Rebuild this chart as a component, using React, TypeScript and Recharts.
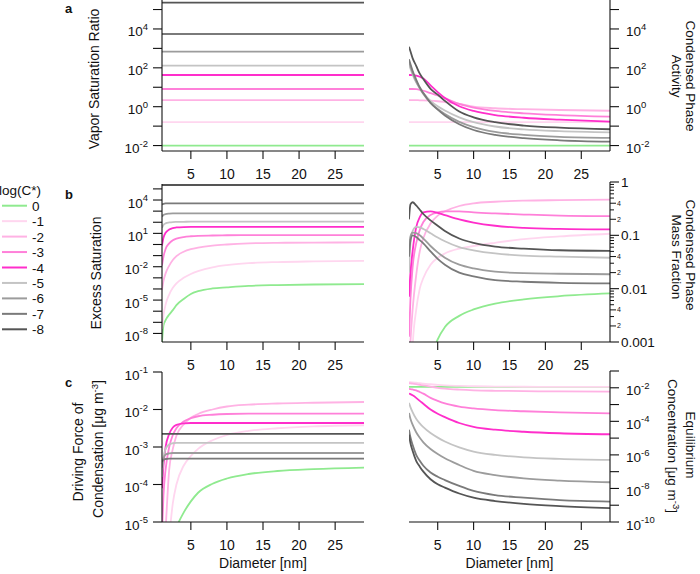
import React from "react";
import { LineChart, Line, XAxis, YAxis } from "recharts";

const W = 700;
const H = 574;
const FONT = '"Liberation Sans", Arial, Helvetica, sans-serif';
const INK = "#111";

const levels = ["0", "-1", "-2", "-3", "-4", "-5", "-6", "-7", "-8"];
const seriesColors = ["#8fea8f", "#ffd6ef", "#ffb2e4", "#ff80d9", "#ff2ecb", "#c4c4c4", "#9c9c9c", "#7a7a7a", "#555555"];

const diameters = [1, 1.2, 1.5, 2, 2.5, 3, 4, 5, 6, 8, 10, 13, 17, 22, 29];
const xTicks = [5, 10, 15, 20, 25];

// a (left): vapor saturation ratio, log10, flat with diameter
const vaporSaturationLog = [-2, -0.79, 0.34, 0.91, 1.63, 2.11, 2.83, 3.74, 5.35];

// a (right): condensed phase activity, log10, one row per log(C*)
const activityLog = [
  [-2, -2, -2, -2, -2, -2, -2, -2, -2, -2, -2, -2, -2, -2, -2],
  [-0.79, -0.79, -0.79, -0.79, -0.79, -0.79, -0.79, -0.79, -0.79, -0.79, -0.79, -0.79, -0.79, -0.79, -0.79],
  [0.34, 0.34, 0.34, 0.34, 0.33, 0.33, 0.31, 0.28, 0.24, 0.15, 0.0, -0.08, -0.13, -0.17, -0.21],
  [0.91, 0.91, 0.91, 0.9, 0.87, 0.82, 0.7, 0.58, 0.44, 0.14, -0.05, -0.22, -0.34, -0.43, -0.51],
  [1.63, 1.63, 1.63, 1.6, 1.54, 1.45, 1.1, 0.75, 0.45, 0.02, -0.22, -0.43, -0.57, -0.67, -0.77],
  [2.15, 1.95, 1.65, 1.25, 0.95, 0.7, 0.3, 0.02, -0.2, -0.55, -0.8, -1.02, -1.17, -1.26, -1.32],
  [2.3, 2.08, 1.75, 1.3, 0.95, 0.65, 0.2, -0.12, -0.38, -0.78, -1.05, -1.3, -1.45, -1.55, -1.6],
  [2.44, 2.2, 1.85, 1.4, 1.0, 0.7, 0.2, -0.15, -0.45, -0.9, -1.2, -1.45, -1.62, -1.73, -1.8],
  [3.08, 2.85, 2.5, 2.1, 1.7, 1.42, 0.92, 0.62, 0.3, -0.25, -0.55, -0.8, -0.97, -1.08, -1.16],
];

// b (left): excess saturation, log10
const excessLog = [
  [-8.8, -7.3, -6.8, -6.3, -5.9, -5.45, -4.9, -4.45, -4.2, -3.95, -3.85, -3.72, -3.65, -3.6, -3.57],
  [-7.6, -6.4, -5.4, -4.5, -3.9, -3.5, -3.0, -2.65, -2.4, -2.05, -1.85, -1.68, -1.58, -1.52, -1.47],
  [-4.1, -3.3, -2.6, -1.9, -1.4, -1.05, -0.65, -0.42, -0.28, -0.1, 0.0, 0.1, 0.15, 0.17, 0.19],
  [-1.9, -1.1, -0.4, 0.1, 0.38, 0.52, 0.67, 0.74, 0.78, 0.81, 0.83, 0.84, 0.85, 0.85, 0.85],
  [-0.1, 0.6, 1.05, 1.35, 1.48, 1.53, 1.57, 1.58, 1.58, 1.59, 1.59, 1.59, 1.59, 1.59, 1.59],
  [1.5, 1.75, 1.9, 1.98, 2.02, 2.03, 2.04, 2.05, 2.05, 2.05, 2.05, 2.05, 2.05, 2.05, 2.05],
  [2.5, 2.65, 2.74, 2.78, 2.8, 2.8, 2.8, 2.8, 2.8, 2.8, 2.8, 2.8, 2.8, 2.8, 2.8],
  [3.6, 3.66, 3.69, 3.7, 3.7, 3.7, 3.7, 3.7, 3.7, 3.7, 3.7, 3.7, 3.7, 3.7, 3.7],
  [5.35, 5.35, 5.35, 5.35, 5.35, 5.35, 5.35, 5.35, 5.35, 5.35, 5.35, 5.35, 5.35, 5.35, 5.35],
];

// b (right): condensed phase mass fraction, log10
const massFractionLog = [
  [-5, -4.8, -4.6, -4.3, -4.0, -3.75, -3.35, -2.95, -2.72, -2.51, -2.39, -2.28, -2.2, -2.14, -2.09],
  [-5, -4.3, -3.1, -2.4, -2.0, -1.8, -1.55, -1.42, -1.34, -1.25, -1.2, -1.14, -1.07, -1.02, -0.97],
  [-3.6, -3.0, -2.4, -1.75, -1.3, -1.05, -0.78, -0.63, -0.55, -0.45, -0.4, -0.37, -0.35, -0.34, -0.33],
  [-2.9, -2.2, -1.6, -1.15, -0.9, -0.75, -0.62, -0.57, -0.55, -0.55, -0.57, -0.59, -0.61, -0.63, -0.64],
  [-2.15, -1.7, -1.3, -0.85, -0.66, -0.57, -0.55, -0.58, -0.62, -0.7, -0.76, -0.82, -0.86, -0.88, -0.89],
  [-1.7, -1.15, -0.92, -0.84, -0.85, -0.88, -0.96, -1.04, -1.11, -1.22, -1.28, -1.34, -1.38, -1.4, -1.42],
  [-1.25, -1.02, -0.95, -0.96, -1.0, -1.06, -1.2, -1.32, -1.42, -1.55, -1.62, -1.68, -1.71, -1.72, -1.73],
  [-1.4, -1.1, -1.0, -1.03, -1.09, -1.15, -1.3, -1.44, -1.55, -1.7, -1.77, -1.84, -1.87, -1.89, -1.9],
  [-0.7, -0.42, -0.38, -0.44, -0.52, -0.6, -0.72, -0.82, -0.92, -1.06, -1.14, -1.21, -1.25, -1.28, -1.29],
];

// c (left): driving force of condensation [ug m-3], log10
const drivingForceLog = [
  [-7, -6.6, -6.2, -5.8, -5.45, -5.15, -4.75, -4.45, -4.22, -3.98, -3.84, -3.72, -3.64, -3.59, -3.55],
  [-8, -7.4, -6.5, -5.4, -4.5, -4.0, -3.5, -3.24, -3.05, -2.82, -2.68, -2.57, -2.5, -2.45, -2.42],
  [-7, -6.2, -5.2, -3.6, -3.05, -2.7, -2.4, -2.22, -2.12, -2.0, -1.92, -1.87, -1.84, -1.82, -1.8],
  [-5.3, -4.3, -3.6, -3.0, -2.68, -2.5, -2.32, -2.23, -2.18, -2.14, -2.12, -2.11, -2.11, -2.11, -2.11],
  [-4.1, -3.5, -3.0, -2.65, -2.48, -2.41, -2.37, -2.36, -2.36, -2.36, -2.36, -2.36, -2.36, -2.36, -2.36],
  [-3.8, -3.3, -3.05, -2.93, -2.9, -2.89, -2.89, -2.89, -2.89, -2.89, -2.89, -2.89, -2.89, -2.89, -2.89],
  [-3.55, -3.3, -3.2, -3.17, -3.16, -3.16, -3.16, -3.16, -3.16, -3.16, -3.16, -3.16, -3.16, -3.16, -3.16],
  [-3.4, -3.34, -3.32, -3.31, -3.31, -3.31, -3.31, -3.31, -3.31, -3.31, -3.31, -3.31, -3.31, -3.31, -3.31],
  [-2.65, -2.65, -2.65, -2.65, -2.65, -2.65, -2.65, -2.65, -2.65, -2.65, -2.65, -2.65, -2.65, -2.65, -2.65],
];

// c (right): equilibrium concentration [ug m-3], log10
const equilibriumLog = [
  [-1.95, -1.95, -1.95, -1.95, -1.95, -1.95, -1.95, -1.95, -1.95, -1.95, -1.95, -1.95, -1.95, -1.95, -1.95],
  [-1.66, -1.67, -1.68, -1.7, -1.72, -1.75, -1.79, -1.83, -1.86, -1.89, -1.91, -1.93, -1.94, -1.95, -1.95],
  [-1.73, -1.74, -1.75, -1.78, -1.82, -1.86, -1.93, -2.0, -2.05, -2.11, -2.15, -2.18, -2.2, -2.22, -2.23],
  [-2.07, -2.08, -2.1, -2.15, -2.25, -2.35, -2.6, -2.78, -2.93, -3.12, -3.23, -3.33, -3.4, -3.47, -3.52],
  [-2.35, -2.38, -2.45, -2.6, -2.78, -2.95, -3.3, -3.55, -3.75, -4.1, -4.33, -4.5, -4.62, -4.71, -4.77],
  [-2.9, -3.15, -3.45, -3.85, -4.12, -4.35, -4.7, -4.97, -5.2, -5.55, -5.8, -6.0, -6.15, -6.24, -6.3],
  [-3.5, -3.85, -4.2, -4.65, -4.98, -5.25, -5.65, -5.95, -6.2, -6.6, -6.95, -7.2, -7.4, -7.53, -7.63],
  [-4.5, -4.95, -5.4, -6.0, -6.35, -6.65, -7.05, -7.3, -7.5, -7.85, -8.15, -8.4, -8.55, -8.7, -8.78],
  [-4.8, -5.3, -5.75, -6.35, -6.7, -7.0, -7.45, -7.75, -7.95, -8.3, -8.55, -8.75, -8.92, -9.05, -9.17],
];

// y tick exponents and which ones carry a label
const ratioTickExp = [-2, -1, 0, 1, 2, 3, 4, 5];
const ratioLabelExp = [-2, 0, 2, 4];
const excessTickExp = [-8, -7, -6, -5, -4, -3, -2, -1, 0, 1, 2, 3, 4, 5];
const excessLabelExp = [-8, -5, -2, 1, 4];
const drivingTickExp = [-5, -4, -3, -2, -1];
const equilTickExp = [-10, -9, -8, -7, -6, -5, -4, -3, -2, -1];
const equilLabelExp = [-10, -8, -6, -4, -2];
const fractionDecades = [-3, -2, -1];
const fractionMantissas = [1, 2, 3, 4, 5, 6, 7, 8, 9];
const fractionLabels = ["0.001", "0.01", "0.1", "1"];
const fractionSmallLabels = [2, 4];

type Side = "left" | "right";
type Pt = { d: number; v: number };

const toPoints = (logs: number[]): Pt[] => diameters.map((d, i) => ({ d, v: Math.pow(10, logs[i]) }));
const flatPoints = (level: number): Pt[] => diameters.map((d) => ({ d, v: Math.pow(10, level) }));
const expTicks = (exps: number[]) => exps.map((e) => Math.pow(10, e));

const fractionTicks = fractionDecades
  .flatMap((k) => fractionMantissas.map((m) => m * Math.pow(10, k)))
  .concat([1]);

const powerTick = (axisX: number, side: Side, labelled: number[]) => (y: number, value: number) => {
  const e = Math.round(Math.log10(value));
  const dir = side === "left" ? -1 : 1;
  return (
    <g>
      <line x1={axisX} x2={axisX + dir * 9} y1={y} y2={y} stroke={INK} strokeWidth={1.1} />
      {labelled.includes(e) && (
        <text
          x={side === "left" ? axisX - 14 : axisX + 16}
          y={y + 7.5}
          textAnchor={side === "left" ? "end" : "start"}
          fontSize={13.5}
          fill={INK}
        >
          10<tspan dy={-6.5} fontSize={9.5}>{e}</tspan>
        </text>
      )}
    </g>
  );
};

const fractionTick = (axisX: number) => (y: number, value: number) => {
  const k = Math.floor(Math.log10(value) + 1e-9);
  const m = Math.round(value / Math.pow(10, k));
  if (m === 1) {
    return (
      <g>
        <line x1={axisX} x2={axisX + 9} y1={y} y2={y} stroke={INK} strokeWidth={1.1} />
        <text x={axisX + 11} y={y + 5} fontSize={13.5} fill={INK}>{fractionLabels[k + 3]}</text>
      </g>
    );
  }
  const small = fractionSmallLabels.includes(m);
  return (
    <g>
      <line x1={axisX} x2={axisX + (small ? 6 : 4)} y1={y} y2={y} stroke={INK} strokeWidth={1} />
      {small && <text x={axisX + 7} y={y + 2.5} fontSize={7} fill={INK}>{m}</text>}
    </g>
  );
};

interface PanelProps {
  x0: number;
  x1: number;
  y0: number;
  y1: number;
  logDomain: [number, number];
  side: Side;
  lines: Pt[][];
  yTicks: number[];
  renderTick: (y: number, value: number) => React.ReactNode;
}

function Panel({ x0, x1, y0, y1, logDomain, side, lines, yTicks, renderTick }: PanelProps) {
  const axisW = 40;
  const xAxisH = 30;
  const margin =
    side === "left"
      ? { top: y0, bottom: H - y1 - xAxisH, left: x0 - axisW, right: W - x1 }
      : { top: y0, bottom: H - y1 - xAxisH, left: x0, right: W - x1 - axisW };
  return (
    <div style={{ position: "absolute", left: 0, top: 0 }}>
      <LineChart width={W} height={H} margin={margin}>
        <XAxis
          dataKey="d"
          type="number"
          domain={[1, 29]}
          ticks={xTicks}
          allowDataOverflow
          height={xAxisH}
          interval={0}
          tickLine={false}
          axisLine={{ stroke: INK, strokeWidth: 1.1 }}
          tick={(p: any) => (
            <g>
              <line x1={p.x} x2={p.x} y1={y1} y2={y1 + 8} stroke={INK} strokeWidth={1.1} />
              <text x={p.x} y={y1 + 28} textAnchor="middle" fontSize={14} fill={INK}>
                {p.payload.value}
              </text>
            </g>
          )}
        />
        <YAxis
          orientation={side}
          type="number"
          scale="log"
          domain={[Math.pow(10, logDomain[0]), Math.pow(10, logDomain[1])]}
          allowDataOverflow
          ticks={yTicks}
          width={axisW}
          interval={0}
          tickLine={false}
          axisLine={{ stroke: INK, strokeWidth: 1.1 }}
          tick={(p: any) => <g>{renderTick(p.y, p.payload.value)}</g>}
        />
        {lines.map((pts, i) => (
          <Line
            key={levels[i]}
            data={pts}
            dataKey="v"
            type="monotone"
            stroke={seriesColors[i]}
            strokeWidth={1.8}
            dot={false}
            isAnimationActive={false}
          />
        ))}
      </LineChart>
    </div>
  );
}

export default function App() {
  const L0 = 162;
  const L1 = 364;
  const R0 = 409;
  const R1 = 610;
  return (
    <div style={{ position: "absolute", left: 0, top: 0, width: W, height: H, background: "#fff", fontFamily: FONT }}>
      <Panel x0={L0} x1={L1} y0={0} y1={151} logDomain={[-2.28, 5.49]} side="left"
        lines={vaporSaturationLog.map(flatPoints)} yTicks={expTicks(ratioTickExp)}
        renderTick={powerTick(L0, "left", ratioLabelExp)} />
      <Panel x0={R0} x1={R1} y0={0} y1={151} logDomain={[-2.28, 5.49]} side="right"
        lines={activityLog.map(toPoints)} yTicks={expTicks(ratioTickExp)}
        renderTick={powerTick(R1, "right", ratioLabelExp)} />
      <Panel x0={L0} x1={L1} y0={184} y1={342} logDomain={[-8.77, 5.44]} side="left"
        lines={excessLog.map(toPoints)} yTicks={expTicks(excessTickExp)}
        renderTick={powerTick(L0, "left", excessLabelExp)} />
      <Panel x0={R0} x1={R1} y0={182} y1={342} logDomain={[-3, 0]} side="right"
        lines={massFractionLog.map(toPoints)} yTicks={fractionTicks}
        renderTick={fractionTick(R1)} />
      <Panel x0={L0} x1={L1} y0={372} y1={522} logDomain={[-5, -1]} side="left"
        lines={drivingForceLog.map(toPoints)} yTicks={expTicks(drivingTickExp)}
        renderTick={powerTick(L0, "left", drivingTickExp)} />
      <Panel x0={R0} x1={R1} y0={371} y1={522} logDomain={[-10, -1]} side="right"
        lines={equilibriumLog.map(toPoints)} yTicks={expTicks(equilTickExp)}
        renderTick={powerTick(R1, "right", equilLabelExp)} />

      <svg width={W} height={H} style={{ position: "absolute", left: 0, top: 0 }} fontFamily={FONT} fill={INK}>
        <text x={65} y={13} fontWeight="bold" fontSize={13}>a</text>
        <text x={65} y={199} fontWeight="bold" fontSize={13}>b</text>
        <text x={65} y={387} fontWeight="bold" fontSize={13}>c</text>

        <text transform="translate(99,79) rotate(-90)" textAnchor="middle" fontSize={14}>Vapor Saturation Ratio</text>
        <text transform="translate(100.5,273) rotate(-90)" textAnchor="middle" fontSize={14}>Excess Saturation</text>
        <text transform="translate(83,452) rotate(-90)" textAnchor="middle" fontSize={14}>Driving Force of</text>
        <text transform="translate(103,449) rotate(-90)" textAnchor="middle" fontSize={14}>
          Condensation [μg m<tspan dy={-5} fontSize={9.5}>-3</tspan><tspan dy={5}>]</tspan>
        </text>

        <text transform="translate(686,76) rotate(90)" textAnchor="middle" fontSize={13.5}>Condensed Phase</text>
        <text transform="translate(672,76) rotate(90)" textAnchor="middle" fontSize={13.5}>Activity</text>
        <text transform="translate(686,255) rotate(90)" textAnchor="middle" fontSize={13.5}>Condensed Phase</text>
        <text transform="translate(672,257) rotate(90)" textAnchor="middle" fontSize={13.5}>Mass Fraction</text>
        <text transform="translate(686,445) rotate(90)" textAnchor="middle" fontSize={13.5}>Equilibrium</text>
        <text transform="translate(668,446) rotate(90)" textAnchor="middle" fontSize={13.5}>
          Concentration [μg m<tspan dy={-5} fontSize={9.5}>-3</tspan><tspan dy={5}>]</tspan>
        </text>

        <text x={(L0 + L1) / 2} y={568} textAnchor="middle" fontSize={14}>Diameter [nm]</text>
        <text x={(R0 + R1) / 2} y={568} textAnchor="middle" fontSize={14}>Diameter [nm]</text>

        <text x={-1} y={195} fontSize={13.5}>log(C*)</text>
        {levels.map((lv, i) => (
          <g key={lv}>
            <line x1={2} x2={27} y1={205.7 + i * 15.45} y2={205.7 + i * 15.45} stroke={seriesColors[i]} strokeWidth={2} />
            <text x={32} y={205.7 + i * 15.45 + 5} fontSize={13.5}>{lv}</text>
          </g>
        ))}
      </svg>
    </div>
  );
}
